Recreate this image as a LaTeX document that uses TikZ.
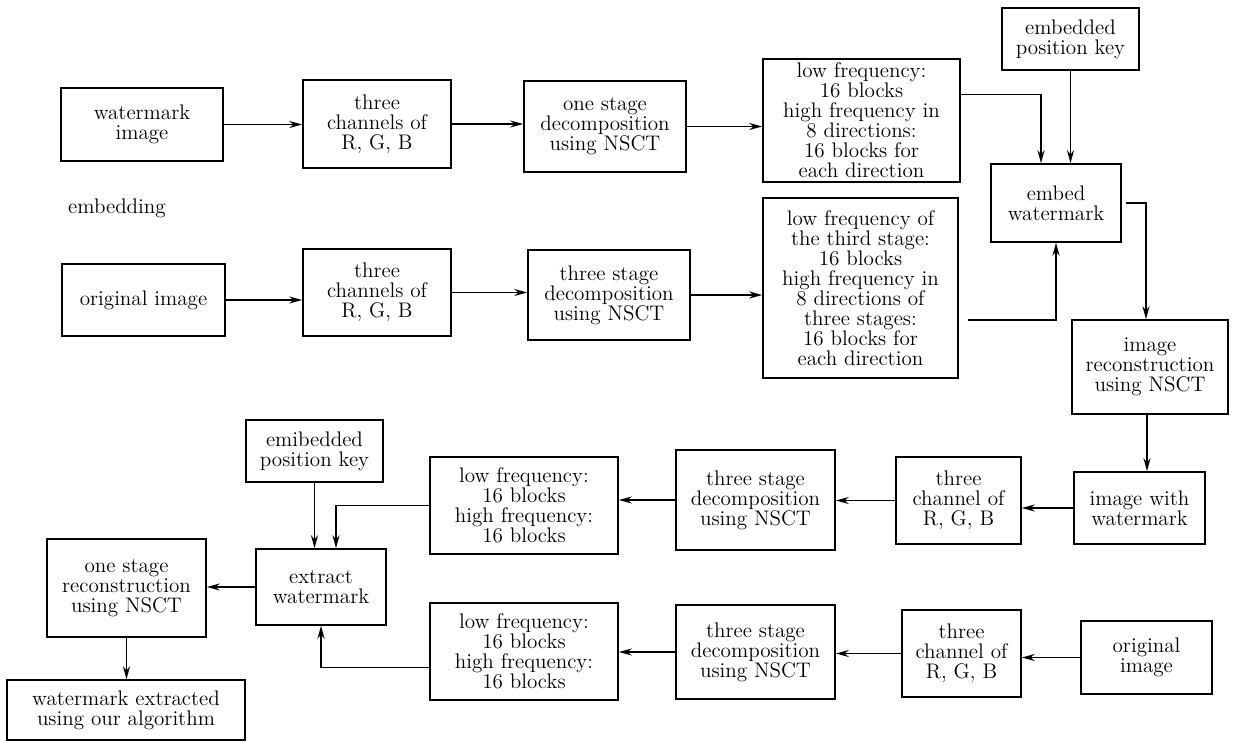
\documentclass[tikz,border=0pt]{standalone}
\usetikzlibrary{arrows.meta}
\begin{document}
\begin{tikzpicture}[x=1cm,y=1cm,
  box/.style={draw,line width=0.9pt,align=center,inner sep=1pt,font=\fontsize{12}{11.4}\selectfont},
  plain/.style={font=\fontsize{12}{11.4}\selectfont},
  flow/.style={line width=0.9pt,-{Stealth[length=2.6mm,width=1.4mm]}}]
\useasboundingbox (0,0) rectangle (24.82,-14.82);

\node[box,minimum width=3.24cm,minimum height=1.46cm] (wmimg) at (2.84,-2.49) {watermark\\image};
\node[box,minimum width=2.96cm,minimum height=1.76cm] (rgbA) at (7.54,-2.48) {three\\channels of\\R, G, B};
\node[box,minimum width=3.24cm,minimum height=1.82cm] (oneDec) at (12.10,-2.53) {one stage\\decomposition\\using NSCT};
\node[box,minimum width=3.94cm,minimum height=2.46cm] (lowA) at (17.23,-2.41) {low frequency:\\16 blocks\\high frequency in\\8 directions:\\16 blocks for\\each direction};
\node[box,minimum width=2.74cm,minimum height=1.24cm] (keyA) at (21.41,-0.78) {embedded\\position key};
\node[box,minimum width=2.60cm,minimum height=1.56cm] (embed) at (21.12,-4.06) {embed\\watermark};
\node[plain] (embtxt) at (2.34,-4.16) {embedding};

\node[box,minimum width=3.26cm,minimum height=1.44cm] (orgA) at (2.87,-6.00) {original image};
\node[box,minimum width=2.96cm,minimum height=1.74cm] (rgbB) at (7.54,-5.85) {three\\channels of\\R, G, B};
\node[box,minimum width=3.24cm,minimum height=1.80cm] (threeDecA) at (12.18,-5.90) {three stage\\decomposition\\using NSCT};
\node[box,minimum width=3.90cm,minimum height=3.60cm] (lowB) at (17.21,-5.76) {low frequency of\\the third stage:\\16 blocks\\high frequency in\\8 directions of\\three stages:\\16 blocks for\\each direction};
\node[box,minimum width=3.12cm,minimum height=1.88cm] (recon) at (23.00,-7.34) {image\\reconstruction\\using NSCT};

\node[box,minimum width=2.62cm,minimum height=1.44cm] (imgWm) at (22.79,-10.16) {image with\\watermark};
\node[box,minimum width=2.50cm,minimum height=1.74cm] (rgbC) at (19.17,-10.01) {three\\channel of\\R, G, B};
\node[box,minimum width=3.18cm,minimum height=2.00cm] (threeDecB) at (15.11,-10.00) {three stage\\decomposition\\using NSCT};
\node[box,minimum width=3.76cm,minimum height=1.94cm] (lowC) at (10.48,-10.11) {low frequency:\\16 blocks\\high frequency:\\16 blocks};
\node[box,minimum width=2.74cm,minimum height=1.24cm] (keyB) at (6.29,-9.02) {emibedded\\position key};
\node[box,minimum width=2.60cm,minimum height=1.52cm] (extract) at (6.42,-11.74) {extract\\watermark};
\node[box,minimum width=3.18cm,minimum height=1.96cm] (oneRec) at (2.53,-11.76) {one stage\\reconstruction\\using NSCT};
\node[box,minimum width=4.76cm,minimum height=1.20cm] (wmExt) at (2.52,-14.20) {watermark extracted\\using our algorithm};

\node[box,minimum width=2.62cm,minimum height=1.46cm] (orgB) at (22.93,-13.15) {original\\image};
\node[box,minimum width=2.38cm,minimum height=1.74cm] (rgbD) at (19.23,-13.07) {three\\channel of\\R, G, B};
\node[box,minimum width=3.18cm,minimum height=1.88cm] (threeDecC) at (15.11,-13.04) {three stage\\decomposition\\using NSCT};
\node[box,minimum width=3.76cm,minimum height=1.94cm] (lowD) at (10.48,-13.03) {low frequency:\\16 blocks\\high frequency:\\16 blocks};

\draw[flow] (wmimg.east) -- (wmimg.east -| rgbA.west);
\draw[flow] (rgbA.east) -- (rgbA.east -| oneDec.west);
\draw[flow] (oneDec.east) -- (oneDec.east -| lowA.west);
\draw[flow] ([yshift=0.52cm]lowA.east) -| ([xshift=-0.3cm]embed.north);
\draw[flow] (keyA.south) -- (keyA.south |- embed.north);

\draw[flow] (orgA.east) -- (orgA.east -| rgbB.west);
\draw[flow] (rgbB.east) -- (rgbB.east -| threeDecA.west);
\draw[flow] (threeDecA.east) -- (threeDecA.east -| lowB.west);
\draw[flow] ([xshift=0.18cm,yshift=-0.64cm]lowB.east) -| (embed.south);
\draw[flow] ([xshift=0.08cm]embed.east) -| ([xshift=-0.08cm]recon.north);
\draw[flow] ([xshift=-0.06cm]recon.south) -- ([xshift=-0.06cm]recon.south |- imgWm.north);

\draw[flow] (imgWm.west) -- (imgWm.west -| rgbC.east);
\draw[flow] (rgbC.west) -- (rgbC.west -| threeDecB.east);
\draw[flow] (threeDecB.west) -- (threeDecB.west -| lowC.east);
\draw[flow] (lowC.west) -| ([xshift=0.3cm]extract.north);
\draw[flow] (keyB.south) -- (keyB.south |- extract.north);
\draw[flow] ([yshift=-0.32cm]lowD.west) -| (extract.south);
\draw[flow] (extract.west) -- (extract.west -| oneRec.east);
\draw[flow] (oneRec.south) -- (oneRec.south |- wmExt.north);

\draw[flow] (orgB.west) -- (orgB.west -| rgbD.east);
\draw[flow] (rgbD.west) -- (rgbD.west -| threeDecC.east);
\draw[flow] (threeDecC.west) -- (threeDecC.west -| lowD.east);
\end{tikzpicture}
\end{document}
